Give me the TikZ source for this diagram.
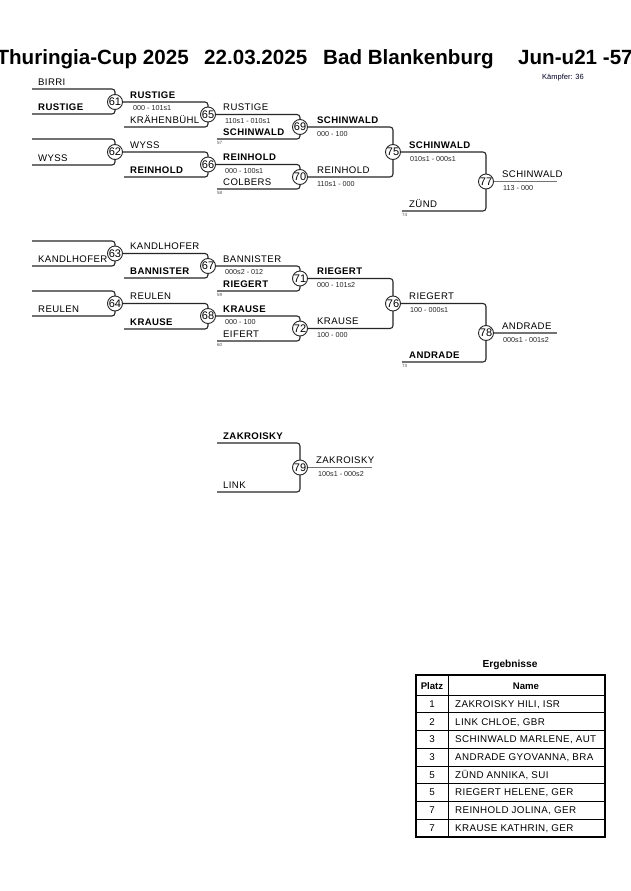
\documentclass[tikz,border=0pt]{standalone}
\usepackage{fontspec}
\setmainfont{Liberation Sans}
\newfontfamily\nf[LetterSpace=4]{Liberation Sans}
\usetikzlibrary{backgrounds}
\tikzset{
  nm/.style={font=\nf\fontsize{9.6}{11}\selectfont, anchor=base west, inner sep=0pt},
  nmb/.style={font=\nf\bfseries\fontsize{9.6}{11}\selectfont, anchor=base west, inner sep=0pt},
  sc/.style={font=\fontsize{7.2}{8}\selectfont, anchor=base west, inner sep=0pt, text=black!85},
  tn/.style={font=\fontsize{4.5}{5}\selectfont, anchor=base west, inner sep=0pt, text=black!70},
  mc/.style={circle, draw=black!85, line width=0.9pt, fill=white, minimum size=15pt, inner sep=0pt, font=\fontsize{11}{12}\selectfont},
  ln/.style={draw=black!85, line width=1.1pt, rounded corners=3pt},
  wl/.style={draw=black!55, line width=1.6pt},
  ttl/.style={font=\bfseries\fontsize{20.6}{24}\selectfont, inner sep=0pt},
  tb/.style={font=\nf\fontsize{9.8}{11}\selectfont, inner sep=0pt},
}
\begin{document}
\begin{tikzpicture}[x=1pt,y=-1pt]
\useasboundingbox (0,0) rectangle (630,891);
% title
\node[ttl, anchor=base east] (t1) at (189,65) {Thuringia-Cup 2025};
\node[ttl, anchor=base west] (t2) at (204,65) {22.03.2025};
\node[ttl, anchor=base west] (t3) at (323,65) {Bad Blankenburg};
\node[ttl, anchor=base west] (t4) at (518,65) {Jun-u21 -57};
\node[font=\fontsize{7.5}{9}\selectfont, anchor=base west, inner sep=0pt, text=black!85!blue] (kf) at (542,79) {Kämpfer: 36};

% match circles
\node[mc] (m61) at (115,102) {61};
\node[mc] (m62) at (115,152) {62};
\node[mc] (m63) at (115,253.5) {63};
\node[mc] (m64) at (115,303.5) {64};
\node[mc] (m65) at (208,114.5) {65};
\node[mc] (m66) at (208,164.5) {66};
\node[mc] (m67) at (208,266) {67};
\node[mc] (m68) at (208,316) {68};
\node[mc] (m69) at (300,127) {69};
\node[mc] (m70) at (300,177) {70};
\node[mc] (m71) at (300,278.5) {71};
\node[mc] (m72) at (300,328.5) {72};
\node[mc] (m75) at (393,152) {75};
\node[mc] (m76) at (393,303.5) {76};
\node[mc] (m77) at (486,181.5) {77};
\node[mc] (m78) at (486,333) {78};
\node[mc] (m79) at (300,467.5) {79};

% free line ends
\coordinate (a61t) at (32,89);   \coordinate (a61b) at (32,114);
\coordinate (a62t) at (32,139);  \coordinate (a62b) at (32,165);
\coordinate (a63t) at (32,241);  \coordinate (a63b) at (32,266);
\coordinate (a64t) at (32,291);  \coordinate (a64b) at (32,316);
\coordinate (a65b) at (124,127); \coordinate (a66b) at (124,177);
\coordinate (a67b) at (124,278); \coordinate (a68b) at (124,329);
\coordinate (a69b) at (217,139); \coordinate (a70b) at (217,189);
\coordinate (a71b) at (217,291); \coordinate (a72b) at (217,341);
\coordinate (a77b) at (402,211); \coordinate (a78b) at (402,362);
\coordinate (a79t) at (217,443); \coordinate (a79b) at (217,492);
\coordinate (w77) at (557,181.5); \coordinate (w78) at (557,333);
\coordinate (w79) at (372,467.5);

\begin{scope}[on background layer]
\fill[white] (0,0) rectangle (630,891);
\draw[ln] (a61t) -| (m61.center) |- (a61b);
\draw[ln] (a62t) -| (m62.center) |- (a62b);
\draw[ln] (a63t) -| (m63.center) |- (a63b);
\draw[ln] (a64t) -| (m64.center) |- (a64b);
\draw[ln] (m61) -| (m65.center) |- (a65b);
\draw[ln] (m62) -| (m66.center) |- (a66b);
\draw[ln] (m63) -| (m67.center) |- (a67b);
\draw[ln] (m64) -| (m68.center) |- (a68b);
\draw[ln] (m65) -| (m69.center) |- (a69b);
\draw[ln] (m66) -| (m70.center) |- (a70b);
\draw[ln] (m67) -| (m71.center) |- (a71b);
\draw[ln] (m68) -| (m72.center) |- (a72b);
\draw[ln] (m69) -| (m75.center) |- (m70);
\draw[ln] (m71) -| (m76.center) |- (m72);
\draw[ln] (m75) -| (m77.center) |- (a77b);
\draw[ln] (m76) -| (m78.center) |- (a78b);
\draw[ln] (a79t) -| (m79.center) |- (a79b);
\draw[wl] (m77) -- (w77);
\draw[wl] (m78) -- (w78);
\draw[wl] (m79) -- (w79);
\end{scope}

% round 1 names
\node[nm]  (n1) at (38,85) {BIRRI};
\node[nmb] (n2) at (38,110) {RUSTIGE};
\node[nm]  (n3) at (38,161) {WYSS};
\node[nm]  (n4) at (38,262) {KANDLHOFER};
\node[nm]  (n5) at (38,312) {REULEN};
% round 2
\node[nmb] (n6) at (130,98) {RUSTIGE};
\node[sc]  (s1) at (133,110.5) {000 - 101s1};
\node[nm]  (n7) at (130,123) {KRÄHENBÜHL};
\node[nm]  (n8) at (130,148) {WYSS};
\node[nmb] (n9) at (130,173) {REINHOLD};
\node[nm]  (n10) at (130,249.5) {KANDLHOFER};
\node[nmb] (n11) at (130,274) {BANNISTER};
\node[nm]  (n12) at (130,299.5) {REULEN};
\node[nmb] (n13) at (130,325) {KRAUSE};
% round 3
\node[nm]  (n14) at (223,110.5) {RUSTIGE};
\node[sc]  (s2) at (225,123) {110s1 - 010s1};
\node[nmb] (n15) at (223,135) {SCHINWALD};
\node[tn]  (x57) at (217,144.5) {57};
\node[nmb] (n16) at (223,160.5) {REINHOLD};
\node[sc]  (s3) at (225,173) {000 - 100s1};
\node[nm]  (n17) at (223,185) {COLBERS};
\node[tn]  (x58) at (217,194.5) {58};
\node[nm]  (n18) at (223,262) {BANNISTER};
\node[sc]  (s4) at (225,274.5) {000s2 - 012};
\node[nmb] (n19) at (223,287) {RIEGERT};
\node[tn]  (x59) at (217,296.5) {59};
\node[nmb] (n20) at (223,312) {KRAUSE};
\node[sc]  (s5) at (225,324.5) {000 - 100};
\node[nm]  (n21) at (223,337) {EIFERT};
\node[tn]  (x60) at (217,346.5) {60};
% round 4
\node[nmb] (n22) at (317,123) {SCHINWALD};
\node[sc]  (s6) at (317,136) {000 - 100};
\node[nm]  (n23) at (317,173) {REINHOLD};
\node[sc]  (s7) at (317,186) {110s1 - 000};
\node[nmb] (n24) at (317,274.5) {RIEGERT};
\node[sc]  (s8) at (317,287.5) {000 - 101s2};
\node[nm]  (n25) at (317,324.5) {KRAUSE};
\node[sc]  (s9) at (317,337.5) {100 - 000};
% round 5
\node[nmb] (n26) at (409,148) {SCHINWALD};
\node[sc]  (s10) at (410,161) {010s1 - 000s1};
\node[nm]  (n27) at (409,207) {ZÜND};
\node[tn]  (x74) at (402,216.5) {74};
\node[nm]  (n28) at (409,299.5) {RIEGERT};
\node[sc]  (s11) at (410,312.5) {100 - 000s1};
\node[nmb] (n29) at (409,358) {ANDRADE};
\node[tn]  (x73) at (402,367.5) {73};
\node[nm]  (n30) at (502,177.5) {SCHINWALD};
\node[sc]  (s12) at (503,190.5) {113 - 000};
\node[nm]  (n31) at (502,329) {ANDRADE};
\node[sc]  (s13) at (503,342) {000s1 - 001s2};
% repechage
\node[nmb] (n32) at (223,439) {ZAKROISKY};
\node[nm]  (n33) at (223,488) {LINK};
\node[nm]  (n34) at (316,463.5) {ZAKROISKY};
\node[sc]  (s14) at (318,476.5) {100s1 - 000s2};

% results table
\node[font=\bfseries\fontsize{10.2}{12}\selectfont, anchor=base, inner sep=0pt] (erg) at (510,667) {Ergebnisse};
\draw[line width=0.6pt] (448,675) -- (448,837);
\draw[line width=0.6pt] (416,695) -- (605,695);
\foreach \i in {1,...,7} {
  \draw[line width=0.6pt] (416,{695+17.7*\i}) -- (605,{695+17.7*\i});
}
\draw[line width=1.6pt] (416,675) rectangle (605,837);
\node[tb, font=\bfseries\fontsize{9.6}{11}\selectfont, anchor=base] (hp) at (432,689) {Platz};
\node[tb, font=\bfseries\fontsize{9.6}{11}\selectfont, anchor=base] (hn) at (526,689) {Name};
\foreach \p/\nme [count=\i from 0] in {1/{ZAKROISKY HILI, ISR},2/{LINK CHLOE, GBR},3/{SCHINWALD MARLENE, AUT},3/{ANDRADE GYOVANNA, BRA},5/{ZÜND ANNIKA, SUI},5/{RIEGERT HELENE, GER},7/{REINHOLD JOLINA, GER},7/{KRAUSE KATHRIN, GER}} {
  \node[tb, anchor=base] (rp\i) at (432,{707.4+17.7*\i}) {\p};
  \node[tb, anchor=base west] (rn\i) at (455,{707.4+17.7*\i}) {\nme};
}
\end{tikzpicture}
\end{document}
